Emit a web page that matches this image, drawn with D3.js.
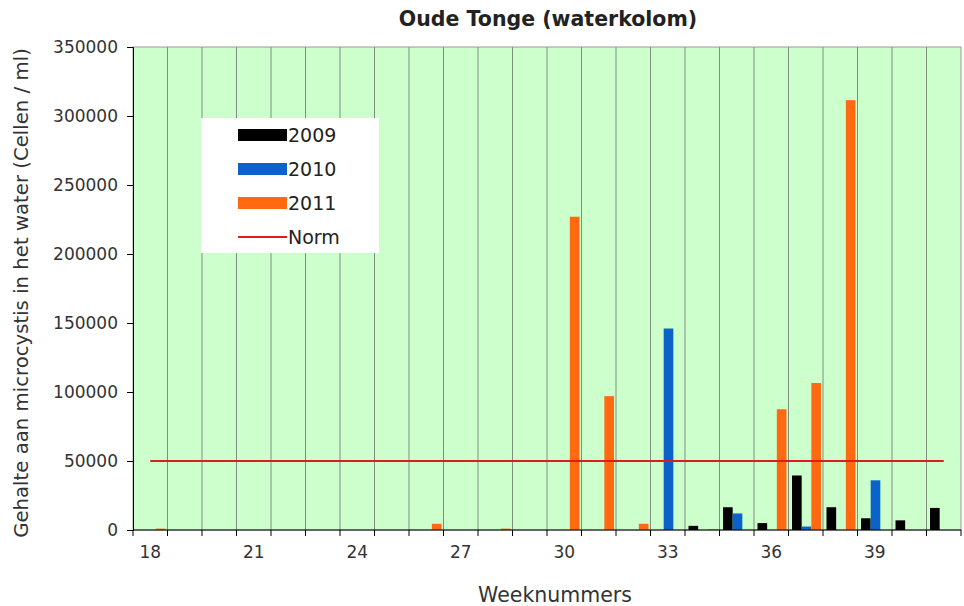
<!DOCTYPE html>
<meta charset="utf-8">
<script src="https://d3js.org/d3.v7.min.js"></script>
<style>
    body { margin: 0; background: #fff; font-family: "DejaVu Sans", Verdana, sans-serif; }
    text { font-family: "DejaVu Sans", Verdana, sans-serif; }
</style>
<div id="chart"></div>
<script>

    // data
    var weeks = d3.range(18, 42);
    var tickWeeks = [18, 21, 24, 27, 30, 33, 36, 39];
    var series = ["2009", "2010", "2011"];
    var colors = ["#000000", "#0b63c9", "#ff6a10"];
    var values2009 = [0, 0, 0, 0, 0, 0, 0, 0, 0, 0, 0, 0, 0, 0, 0, 0, 3000, 16500, 5000, 39500, 16500, 8500, 7000, 16000];
    var values2010 = [0, 0, 0, 0, 0, 0, 0, 0, 0, 0, 0, 0, 0, 0, 0, 146000, 0, 12000, 0, 2500, 0, 36000, 0, 0];
    var values2011 = [1000, 0, 0, 0, 0, 0, 0, 0, 4500, 0, 1000, 0, 227000, 97000, 4500, 0, 500, 0, 87500, 106500, 311500, 0, 0, 0];
    var norm = 50000;
    var yTicks = [0, 50000, 100000, 150000, 200000, 250000, 300000, 350000];

    var allValues = [values2009, values2010, values2011];

    var W = 964, H = 606;
    var margin = { top: 47, right: 3, bottom: 76, left: 133 };
    var width = W - margin.left - margin.right,
        height = H - margin.top - margin.bottom;

    var svg = d3.select("#chart").append("svg")
        .attr("width", W).attr("height", H);

    var g = svg.append("g")
        .attr("transform", "translate(" + margin.left + "," + margin.top + ")");

    var x = d3.scaleBand().domain(weeks).range([0, width]).padding(0);
    var x1 = d3.scaleBand().domain(series).range([3.5, x.bandwidth() - 2]).padding(0);
    var y = d3.scaleLinear().domain([0, 350000]).range([height, 0]);

    // plot background
    g.append("rect")
        .attr("width", width).attr("height", height)
        .attr("fill", "#ccffcc")
        .attr("stroke", "#9a9a9a");

    // vertical grid lines at category boundaries
    g.selectAll(".vgrid")
        .data(weeks.slice(1))
        .enter().append("line")
        .attr("x1", function (d) { return x(d); })
        .attr("x2", function (d) { return x(d); })
        .attr("y1", 0).attr("y2", height)
        .attr("stroke", "#7f8f7f")
        .attr("stroke-width", 1);

    // bars
    series.forEach(function (s, i) {
        g.selectAll(".bar" + s)
            .data(weeks.map(function (w, j) { return { week: w, value: allValues[i][j] }; })
                .filter(function (d) { return d.value > 0; }))
            .enter().append("rect")
            .attr("x", function (d) { return x(d.week) + x1(s); })
            .attr("y", function (d) { return y(d.value); })
            .attr("width", x1.bandwidth())
            .attr("height", function (d) { return height - y(d.value); })
            .attr("fill", colors[i]);
    });

    // norm line
    g.append("line")
        .attr("x1", x(weeks[0]) + x.bandwidth() / 2)
        .attr("x2", x(weeks[weeks.length - 1]) + x.bandwidth() / 2)
        .attr("y1", y(norm)).attr("y2", y(norm))
        .attr("stroke", "#d81e1e")
        .attr("stroke-width", 2);

    // y axis
    var yAxis = g.append("g")
        .call(d3.axisLeft(y).tickValues(yTicks).tickSize(6).tickPadding(9).tickFormat(d3.format("d")));
    yAxis.selectAll("text").style("font-size", "17px").style("fill", "#333")
        .style("font-family", "DejaVu Sans, Verdana, sans-serif");

    // x axis: ticks at category boundaries, labels every third week
    var xAxisG = g.append("g").attr("transform", "translate(0," + height + ")");
    xAxisG.append("line").attr("x1", 0).attr("x2", width).attr("stroke", "#000");
    xAxisG.selectAll(".xtick")
        .data(weeks.concat([42]))
        .enter().append("line")
        .attr("x1", function (d, i) { return i * x.bandwidth(); })
        .attr("x2", function (d, i) { return i * x.bandwidth(); })
        .attr("y1", 0).attr("y2", 6)
        .attr("stroke", "#000");
    xAxisG.selectAll(".xlabel")
        .data(tickWeeks)
        .enter().append("text")
        .attr("x", function (d) { return x(d) + x.bandwidth() / 2; })
        .attr("y", 28)
        .attr("text-anchor", "middle")
        .style("font-size", "17px")
        .style("fill", "#333")
        .text(function (d) { return d; });

    // title and axis labels
    svg.append("text")
        .attr("x", 548).attr("y", 26)
        .attr("text-anchor", "middle")
        .style("font-size", "20.5px").style("font-weight", "bold")
        .style("fill", "#222")
        .text("Oude Tonge (waterkolom)");

    svg.append("text")
        .attr("x", 555).attr("y", 602)
        .attr("text-anchor", "middle")
        .style("font-size", "20.5px")
        .style("fill", "#333")
        .text("Weeknummers");

    svg.append("text")
        .attr("transform", "translate(28," + 293 + ") rotate(-90)")
        .attr("text-anchor", "middle")
        .style("font-size", "19.7px")
        .style("fill", "#333")
        .text("Gehalte aan microcystis in het water (Cellen / ml)");

    // legend
    var legend = svg.append("g").attr("transform", "translate(201,118)");
    legend.append("rect")
        .attr("width", 178).attr("height", 135)
        .attr("fill", "#fff");
    var legendItems = series.concat(["Norm"]);
    legendItems.forEach(function (name, i) {
        var cy = 17 + i * 34;
        if (i < 3) {
            legend.append("rect")
                .attr("x", 37).attr("y", cy - 6)
                .attr("width", 49).attr("height", 12)
                .attr("fill", colors[i]);
        } else {
            legend.append("line")
                .attr("x1", 37).attr("x2", 86)
                .attr("y1", cy).attr("y2", cy)
                .attr("stroke", "#d81e1e").attr("stroke-width", 2);
        }
        legend.append("text")
            .attr("x", 87).attr("y", cy + 7)
            .style("font-size", "19px")
            .style("fill", "#222")
            .text(name);
    });

</script>
